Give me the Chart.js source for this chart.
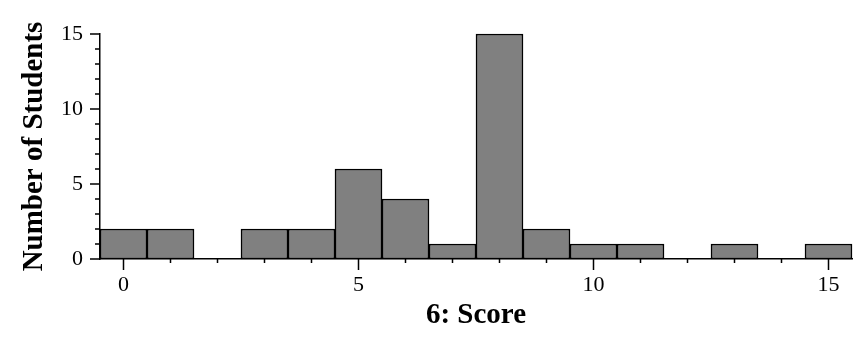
<!DOCTYPE html>
<html>
<head>
<meta charset="utf-8">
<script src="https://cdn.jsdelivr.net/npm/chart.js@4"></script>
<style>
  html, body { margin: 0; padding: 0; background: #fff; }
  #wrap { width: 863px; height: 346px; }
</style>
</head>
<body>
<div id="wrap"><canvas id="hist" width="863" height="346"></canvas></div>
<script>
var scores = ['0', '1', '2', '3', '4', '5', '6', '7', '8', '9', '10', '11', '12', '13', '14', '15'];
var counts = [2, 2, 0, 2, 2, 6, 4, 1, 15, 2, 1, 1, 0, 1, 0, 1];
var yTicks = [0, 5, 10, 15];

var serif = "'Liberation Serif', 'Times New Roman', serif";

// tick marks: long at labelled values, short elsewhere
var tickMarks = {
  id: 'tickMarks',
  afterDraw: function (chart) {
    var ctx = chart.ctx;
    var x = chart.scales.x;
    var y = chart.scales.y;
    ctx.save();
    ctx.strokeStyle = '#000';
    ctx.lineWidth = 1.5;
    ctx.beginPath();
    for (var v = y.min; v <= y.max; v++) {
      var py = y.getPixelForValue(v);
      var len = yTicks.indexOf(v) >= 0 ? 10 : 5;
      ctx.moveTo(y.right - len, py);
      ctx.lineTo(y.right, py);
    }
    scores.forEach(function (s, i) {
      var px = x.getPixelForValue(i);
      var len = (+s % 5 === 0) ? 11 : 4;
      ctx.moveTo(px, x.top);
      ctx.lineTo(px, x.top + len);
    });
    ctx.stroke();
    ctx.restore();
  }
};

new Chart(document.getElementById('hist'), {
  type: 'bar',
  data: {
    labels: scores,
    datasets: [{
      data: counts,
      backgroundColor: '#808080',
      borderColor: '#000',
      borderWidth: 1.5,
      borderSkipped: false,
      barPercentage: 1,
      categoryPercentage: 1,
      clip: 3
    }]
  },
  options: {
    responsive: false,
    animation: false,
    layout: { padding: { top: 34, right: 11, left: 0, bottom: 0 } },
    plugins: { legend: { display: false }, tooltip: { enabled: false } },
    scales: {
      x: {
        offset: true,
        grid: { display: false, drawTicks: false },
        border: { display: true, color: '#000', width: 1.5 },
        ticks: {
          color: '#000',
          padding: 13,
          maxRotation: 0,
          autoSkip: false,
          font: { family: serif, size: 22 },
          callback: function (val, i) {
            return (+scores[i] % 5 === 0) ? scores[i] : '';
          }
        },
        title: {
          display: true,
          text: '6: Score',
          color: '#000',
          padding: { top: 0, bottom: 13 },
          font: { family: serif, size: 29, weight: 'bold' }
        },
        afterFit: function (scale) { scale.height = 87; }
      },
      y: {
        min: 0,
        max: 15,
        grid: { display: false, drawTicks: false },
        border: { display: true, color: '#000', width: 1.5 },
        ticks: {
          stepSize: 1,
          autoSkip: false,
          color: '#000',
          padding: 17,
          font: { family: serif, size: 22 },
          callback: function (val) {
            return yTicks.indexOf(val) >= 0 ? val : '';
          }
        },
        title: {
          display: true,
          text: 'Number of Students',
          color: '#000',
          padding: { top: 17, bottom: 0 },
          font: { family: serif, size: 29, weight: 'bold' }
        },
        afterFit: function (scale) { scale.width = 100; }
      }
    }
  },
  plugins: [tickMarks]
});
</script>
</body>
</html>
